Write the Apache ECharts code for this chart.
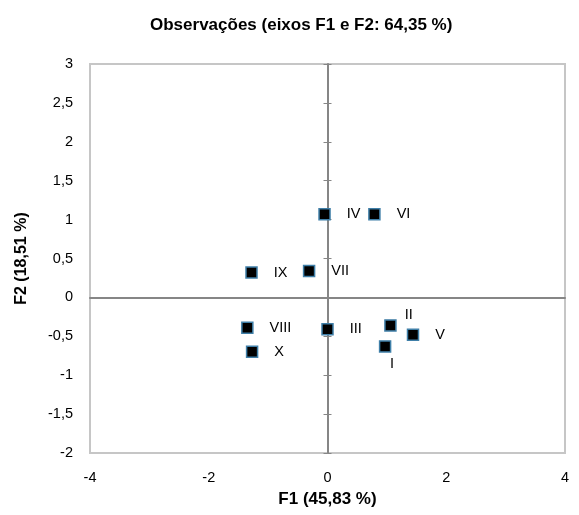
<!DOCTYPE html>
<html>
<head>
<meta charset="utf-8">
<script src="https://cdn.jsdelivr.net/npm/echarts@6/dist/echarts.min.js"></script>
<style>html,body{margin:0;padding:0;background:#fff}#c{width:579px;height:515px}</style>
</head>
<body>
<div id="c"></div>
<script>
const pointNames = ['I', 'II', 'III', 'IV', 'V', 'VI', 'VII', 'VIII', 'IX', 'X'];
const f1Values = [0.97, 1.06, 0.00, -0.05, 1.44, 0.79, -0.31, -1.35, -1.28, -1.27];
const f2Values = [-0.63, -0.36, -0.41, 1.07, -0.48, 1.07, 0.34, -0.39, 0.32, -0.70];
const titleText = 'Observações (eixos F1 e F2: 64,35 %)';
const xAxisTitle = 'F1 (45,83 %)';
const yAxisTitle = 'F2 (18,51 %)';
const xRange = [-4, 4];
const yRange = [-2, 3];

const FONT = 'Liberation Sans, Arial, sans-serif';
const labelOverrides = {
  'II': { position: 'right', distance: 16, offset: [-8, -10] },
  'I': { position: 'bottom', distance: 4, offset: [7, 0] }
};

const data = pointNames.map((n, i) => {
  const d = { name: n, value: [f1Values[i], f2Values[i]] };
  if (labelOverrides[n]) d.label = labelOverrides[n];
  return d;
});

const fmt = v => String(v).replace('.', ',');
const chart = echarts.init(document.getElementById('c'), null, { renderer: 'canvas' });
chart.setOption({
  animation: false,
  title: {
    text: titleText, left: 145, top: 12,
    textStyle: { fontFamily: FONT, fontSize: 17, fontWeight: 'bold', color: '#000' }
  },
  grid: {
    left: 90, right: 14, top: 64, bottom: 62, show: true,
    borderColor: '#c6c6c6', borderWidth: 2, containLabel: false, outerBoundsMode: 'none'
  },
  xAxis: [
    {
      type: 'value', min: xRange[0], max: xRange[1], interval: 2, position: 'bottom',
      axisLine: { show: false, onZero: false }, axisTick: { show: false }, splitLine: { show: false },
      axisLabel: { fontFamily: FONT, fontSize: 14.5, color: '#000', margin: 17, formatter: fmt },
      name: xAxisTitle, nameLocation: 'middle', nameGap: 38,
      nameTextStyle: { fontFamily: FONT, fontSize: 17, fontWeight: 'bold', color: '#000' }
    },
    {
      type: 'value', min: xRange[0], max: xRange[1], interval: 2,
      axisLine: { show: true, onZero: true, lineStyle: { color: '#868686', width: 2 } },
      axisTick: { show: false }, axisLabel: { show: false }, splitLine: { show: false }
    }
  ],
  yAxis: [
    {
      type: 'value', min: yRange[0], max: yRange[1], interval: 0.5, position: 'left',
      axisLine: { show: false, onZero: false }, axisTick: { show: false }, splitLine: { show: false },
      axisLabel: { fontFamily: FONT, fontSize: 14.5, color: '#000', margin: 17, formatter: fmt },
      name: yAxisTitle, nameLocation: 'middle', nameGap: 60, nameRotate: 90,
      nameTextStyle: { fontFamily: FONT, fontSize: 16, fontWeight: 'bold', color: '#000' }
    },
    {
      type: 'value', min: yRange[0], max: yRange[1], interval: 0.5, position: 'left',
      axisLine: { show: true, onZero: true, onZeroAxisIndex: 1, lineStyle: { color: '#868686', width: 2 } },
      axisTick: { show: true, length: 4, lineStyle: { color: '#868686', width: 1 } },
      axisLabel: { show: false }, splitLine: { show: false }
    },
    {
      type: 'value', min: yRange[0], max: yRange[1], interval: 0.5, position: 'left',
      axisLine: { show: false, onZero: true, onZeroAxisIndex: 1 },
      axisTick: { show: true, inside: true, length: 4, lineStyle: { color: '#868686', width: 1 } },
      axisLabel: { show: false }, splitLine: { show: false }
    }
  ],
  series: [{
    type: 'scatter', xAxisIndex: 0, yAxisIndex: 0,
    symbol: 'rect', symbolSize: 11, z: 5,
    itemStyle: { color: '#000', opacity: 1, borderColor: '#3f7fa8', borderWidth: 1.5 },
    label: {
      show: true, position: 'right', distance: 16,
      formatter: p => p.name,
      fontFamily: FONT, fontSize: 14.5, color: '#000'
    },
    emphasis: { disabled: true },
    data: data
  }]
});
</script>
</body>
</html>
